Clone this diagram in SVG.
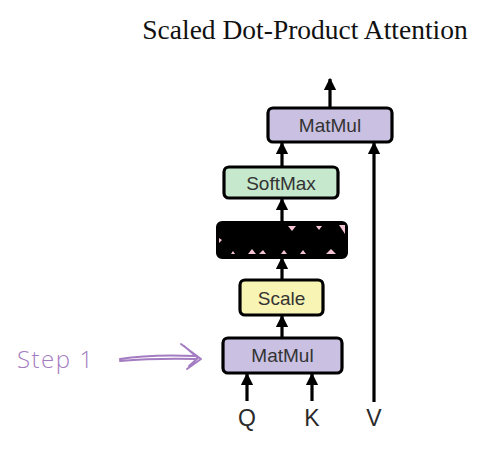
<svg xmlns="http://www.w3.org/2000/svg" width="502" height="455" viewBox="0 0 502 455">
<style>
.box{stroke:#000;stroke-width:3.2}
.lbl{font-family:"Liberation Sans",Arial,sans-serif;font-size:19px;fill:#333;text-anchor:middle}
.io{font-family:"Liberation Sans",Arial,sans-serif;font-size:23px;fill:#2a2a2a;text-anchor:middle}
.ln{stroke:#000;stroke-width:3.2;fill:none}
.pk{fill:#f2c4d4}
</style>
<defs>
<marker id="ah" viewBox="0 0 10 10" refX="9" refY="5" markerWidth="3.8" markerHeight="3.8" orient="auto" markerUnits="strokeWidth">
<path d="M0,0 L10,5 L0,10 z" fill="#000"/>
</marker>
</defs>
<rect width="502" height="455" fill="#fff"/>
<text x="305" y="39" font-family="'Liberation Serif','Times New Roman',serif" font-size="27.5" fill="#111" text-anchor="middle">Scaled Dot-Product Attention</text>

<g id="connectors">
<line class="ln" x1="330" y1="107" x2="330" y2="79" marker-end="url(#ah)"/>
<line class="ln" x1="282" y1="167" x2="282" y2="143" marker-end="url(#ah)"/>
<line class="ln" x1="374" y1="402" x2="374" y2="143" marker-end="url(#ah)"/>
<line class="ln" x1="282" y1="223" x2="282" y2="199" marker-end="url(#ah)"/>
<line class="ln" x1="282" y1="280" x2="282" y2="258" marker-end="url(#ah)"/>
<line class="ln" x1="282" y1="337" x2="282" y2="316" marker-end="url(#ah)"/>
<line class="ln" x1="247" y1="401" x2="247" y2="374" marker-end="url(#ah)"/>
<line class="ln" x1="312" y1="401" x2="312" y2="374" marker-end="url(#ah)"/>
</g>

<g id="matmul-top">
<rect class="box" x="268" y="108" width="124" height="34" rx="5" fill="#c9c0e2"/>
<text class="lbl" x="330" y="132">MatMul</text>
</g>
<g id="softmax">
<rect class="box" x="224" y="167" width="114" height="31" rx="5" fill="#c6e8cd"/>
<text class="lbl" x="281" y="189.5">SoftMax</text>
</g>
<g id="mask">
<rect x="217" y="222" width="130" height="36" rx="5" fill="#000" stroke="#000" stroke-width="2"/>
<path class="pk" d="M248,254 L252,249 L256,254 z"/>
<path class="pk" d="M259,254 L263,250 L266,254 z"/>
<path class="pk" d="M281,254 L284,250 L287,254 z"/>
<path class="pk" d="M300,254 L303,250 L306,254 z"/>
<path class="pk" d="M326,254 L331,249 L336,254 z"/>
<path class="pk" d="M231,254 L233,251 L235,254 z"/>
<path class="pk" d="M339,225 L345,225 L345,234 z"/>
<path class="pk" d="M288,226 L292,231 L296,226 z"/>
<path class="pk" d="M316,226 L319,230 L322,226 z"/>
<path class="pk" d="M219,238 L222,240 L219,243 z"/>
</g>
<g id="scale">
<rect class="box" x="240" y="280" width="83" height="35" rx="5" fill="#f8f4b4"/>
<text class="lbl" x="281.5" y="304.5">Scale</text>
</g>
<g id="matmul-bottom">
<rect class="box" x="223" y="338" width="119" height="35" rx="5" fill="#c9c0e2"/>
<text class="lbl" x="282.5" y="362">MatMul</text>
</g>

<text class="io" x="247" y="426">Q</text>
<text class="io" x="312" y="426">K</text>
<text class="io" x="374" y="426">V</text>

<g id="step1">
<text x="17" y="368" font-family="'Open Sans','Noto Sans',sans-serif" font-size="24" font-weight="300" letter-spacing="1.5" fill="#a47cc2">Step 1</text>
<path d="M120,359 Q150,354 196,356 M120,361 Q155,358 196,359 M181,344 L201,359 L187,369 M184,346 L198,358 L189,366" fill="none" stroke="#a47cc2" stroke-width="2" stroke-linecap="round" stroke-linejoin="round"/>
</g>
</svg>
